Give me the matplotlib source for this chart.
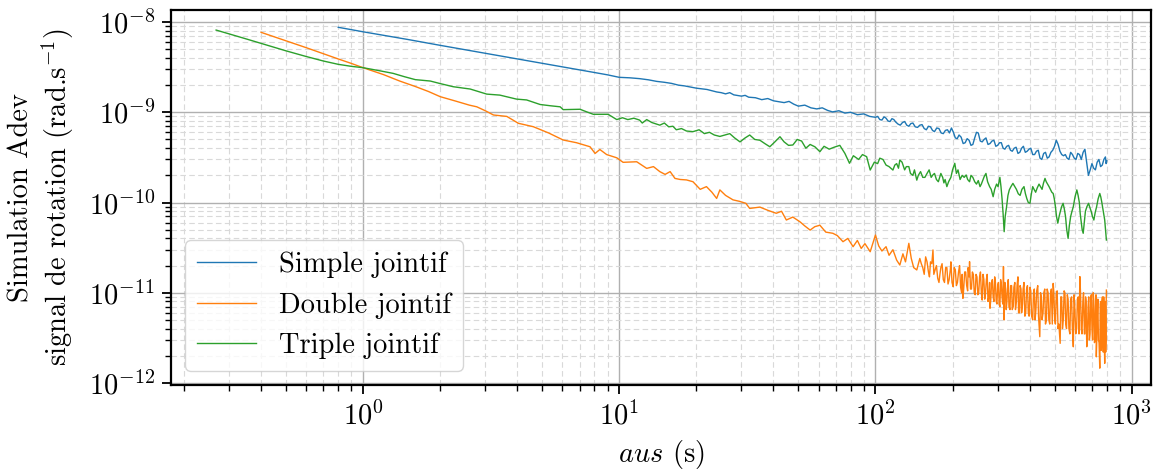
import numpy as np
import matplotlib
matplotlib.use("Agg")
import matplotlib.pyplot as plt
from matplotlib.ticker import LogLocator, NullFormatter

plt.rcParams['font.family'] = 'serif'
plt.rcParams['font.serif'] = ['cmr10', 'DejaVu Serif']
plt.rcParams['mathtext.fontset'] = 'cm'
plt.rcParams['axes.formatter.use_mathtext'] = True
plt.rcParams['axes.unicode_minus'] = False

# ---- data: (tau [s], Allan deviation [1e-12 rad/s]) ----
simple_pts = [
    (0.8, 8750), (1.0, 7800), (1.5, 6400), (2, 5520), (3, 4510), (4, 3900), (5, 3500),
    (6, 3190), (7, 2950), (8, 2760), (9, 2600), (10, 2440), (11, 2410), (12, 2360),
    (13, 2290), (14, 2200), (15, 2150), (16, 2090), (17, 2000), (18, 1960), (20, 1850),
    (22, 1790), (24, 1680), (25, 1650), (26, 1600), (27, 1650), (28, 1560), (30, 1510),
    (31, 1540), (32, 1470), (34, 1450), (36, 1380), (38, 1420), (40, 1340), (42, 1310),
    (44, 1280), (46, 1320), (48, 1230), (50, 1170), (53, 1200), (56, 1120), (59, 1090),
    (62, 1120), (65, 1050), (68, 1010), (72, 1040), (76, 980), (80, 1000), (85, 940),
    (90, 960), (95, 900), (100, 880), (104, 830), (108, 890), (112, 800), (116, 850),
    (120, 780), (125, 720), (130, 790), (135, 700), (140, 760), (146, 680), (152, 730),
    (158, 640), (164, 690), (170, 610), (177, 660), (184, 580), (191, 640), (198, 670),
    (205, 520), (212, 560), (220, 450), (228, 510), (236, 430), (244, 520), (252, 590),
    (261, 470), (270, 520), (280, 450), (290, 490), (300, 430), (310, 460), (320, 390),
    (331, 430), (342, 370), (354, 410), (366, 360), (378, 420), (391, 370), (404, 400),
    (418, 340), (432, 380), (446, 300), (461, 360), (476, 320), (492, 380), (508, 490),
    (525, 370), (542, 330), (560, 310), (578, 360), (597, 310), (616, 350), (636, 300),
    (657, 390), (678, 200), (700, 270), (722, 230), (745, 300), (768, 260), (790, 320),
    (800, 290),
]
simple_extra = [
    (102, 900), (106, 820), (110, 860), (114, 790), (118, 830), (122.5, 740), (127.5, 770),
    (132.5, 720), (137.5, 750), (143, 690), (149, 720), (155, 660), (161, 700), (167, 630),
    (173.5, 670), (180.5, 590), (187.5, 630), (194.5, 590), (201.5, 600), (208.5, 510),
    (216, 530), (224, 460), (232, 490), (240, 440), (248, 600), (256.5, 480), (265.5, 500),
    (275, 440), (285, 480), (295, 420), (305, 460), (315, 400), (325.5, 420), (336.5, 380),
    (348, 400), (360, 350), (372, 400), (384.5, 360), (397.5, 390), (411, 340), (425, 370),
    (439, 310), (453.5, 350), (468.5, 310), (484, 360), (500, 420), (516.5, 440), (533.5, 340),
    (551, 340), (569, 300), (587.5, 340), (606.5, 300), (626, 340), (646.5, 360), (667.5, 280),
    (689, 230), (711, 240), (733.5, 280), (756.5, 250), (779, 300), (795, 270),
]

triple_pts = [
    (0.267, 8150), (0.3, 7400), (0.35, 6500), (0.4, 5800), (0.45, 5250), (0.5, 4800),
    (0.6, 4150), (0.7, 3700), (0.8, 3400), (0.9, 3230), (1.0, 3120), (1.15, 2900),
    (1.31, 2700), (1.45, 2480), (1.6, 2300), (1.83, 2220), (2.0, 2080), (2.25, 1920),
    (2.62, 1810), (3.04, 1590), (3.42, 1550), (3.97, 1400), (4.35, 1370), (4.91, 1220),
    (5.4, 1180), (5.88, 1150), (6.04, 1070), (7.03, 1080), (7.47, 1010), (7.92, 950),
    (9.05, 950), (9.78, 830), (10.3, 870), (10.8, 830), (11.4, 860), (12.0, 820),
    (12.3, 760), (12.8, 830), (13.4, 770), (14.0, 740), (14.4, 720), (15.0, 760),
    (15.6, 690), (16.2, 700), (16.7, 640), (17.5, 660), (18.3, 620), (19.4, 610),
    (20.5, 640), (21.5, 580), (22.5, 600), (23.5, 560), (24.7, 540), (25.8, 560),
    (27.0, 580), (28.2, 520), (29.6, 470), (31.0, 520), (32.3, 560), (33.8, 500),
    (35.4, 490), (37.0, 450), (38.7, 415), (40.5, 470), (42.4, 536), (44.0, 470),
    (45.8, 430), (47.6, 434), (49.5, 500), (51.5, 480), (53.5, 400), (55.6, 440),
    (58, 415), (60.7, 366), (63, 420), (66, 390), (69, 410), (72.6, 430), (76, 350),
    (79.2, 272), (82, 330), (86, 300), (89, 340), (92.4, 322), (95.4, 229), (99, 280),
    (104, 310), (110, 260), (117, 229), (121, 270), (124.5, 296), (130, 230), (135, 250),
    (140, 200), (145, 177), (150, 220), (156, 190), (162, 230), (167.5, 202), (173, 180),
    (180, 210), (185, 165), (190, 150), (197, 190), (204, 272), (210, 230), (218, 200),
    (226, 202), (233, 170), (240, 190), (248, 160), (256, 150), (263, 180), (270, 210),
    (279, 150), (288, 116), (297, 160), (306, 190), (312, 110), (318, 47.5), (325, 90),
    (333, 138), (344, 163), (355, 140), (367, 120), (380, 150), (390, 110), (401, 98),
    (411, 150), (422, 130), (435, 160), (447, 140), (459, 185), (470, 160), (482, 140),
    (494, 126), (504, 90), (515, 59), (527, 80), (540, 98), (552, 70), (565, 40),
    (578, 70), (592, 90), (611, 138), (625, 100), (636, 60), (647, 45.6), (660, 80),
    (679, 98), (695, 80), (712, 64), (730, 90), (751, 126), (765, 100), (785, 64),
    (797, 38.4),
]
triple_extra = [
    (102, 270), (107, 300), (113, 250), (119, 260), (123, 240), (127, 280), (132, 250),
    (137, 210), (142, 230), (147, 200), (153, 190), (159, 210), (165, 190), (170, 210),
    (176, 170), (183, 190), (187, 180), (193, 170), (200, 230), (207, 210), (214, 180),
    (222, 190), (229, 180), (236, 200), (244, 170), (252, 175), (259, 160), (266, 195),
    (274, 170), (283, 140), (292, 140), (301, 150), (309, 150), (315, 75), (321, 70),
    (329, 120), (338, 150), (350, 150), (361, 125), (373, 140), (385, 125), (395, 100),
    (406, 125), (416, 140), (428, 145), (441, 150), (453, 165), (464, 170), (476, 150),
    (488, 130), (499, 110), (509, 70), (521, 70), (533, 90), (546, 85), (558, 50),
    (571, 55), (585, 80), (601, 115), (618, 120), (630, 75), (641, 50), (653, 60),
    (669, 90), (687, 88), (703, 70), (721, 78), (740, 110), (758, 115), (775, 80), (791, 50),
]

double_pts = [
    (0.4, 7690), (0.5, 6200), (0.6, 5200), (0.7, 4450), (0.8, 3900), (0.9, 3480),
    (1.0, 3120), (1.2, 2620), (1.39, 2220), (1.6, 1930), (1.8, 1700), (2.0, 1490),
    (2.3, 1330), (2.6, 1200), (2.78, 1150), (3.0, 1040), (3.23, 933), (3.64, 900),
    (4.04, 755), (4.62, 692), (5.3, 590), (6.04, 493), (6.81, 460), (7.69, 415),
    (8.05, 350), (8.4, 387), (8.93, 340), (9.78, 313), (10.35, 279), (11.7, 283),
    (12.8, 239), (13.6, 250), (14.4, 220), (15.1, 205), (15.8, 220), (16.5, 185),
    (17.3, 180), (18.3, 178), (19.4, 170), (20.7, 140), (21.9, 150), (23, 130),
    (24.0, 111), (24.7, 138), (26, 120), (27.8, 107), (29.5, 103), (31.2, 98),
    (32.3, 86), (35.4, 89), (38, 82), (41.0, 76), (43, 80), (44.9, 64), (47.6, 69),
    (50.8, 61), (53, 55), (55.6, 49.5), (58, 54), (60.7, 56), (64, 47), (68.2, 45.6),
    (71, 43), (74.7, 36.8), (78, 40), (81.8, 32.4), (85, 38), (88, 31), (91, 35),
    (95.4, 28.5), (100, 43.6), (103, 33), (106, 29), (110, 32.4), (113, 26), (117, 30),
    (121, 23), (124.5, 20.3), (128, 27), (131, 22), (135, 35.3), (138, 24), (141, 19),
    (145, 17.9), (149, 24), (153, 19), (157, 25), (161, 17), (164, 22), (167.7, 29.8),
    (171, 18), (175, 14.5), (178.5, 16), (182, 21), (186, 13), (190, 19), (194, 14),
    (197, 22), (201, 11.7), (205, 18), (209, 13), (213, 20), (217, 10), (219.5, 8.67),
    (223, 17), (227, 12), (230, 19), (233, 22.1), (237, 11), (241, 16), (245, 9.5),
    (249, 15), (253, 10), (257, 17), (261, 8.3), (265, 14), (269, 10), (273, 16),
    (277, 9), (280, 6.73), (284, 13), (288, 9), (292, 15), (296, 8), (300, 12),
    (304, 7.5), (308, 14), (312, 9), (316, 19.5), (318, 5.0), (322, 11), (326, 8),
    (330, 14), (335, 6.5), (340, 12), (345, 7), (350, 13), (355, 8), (360, 15),
    (365, 6), (370, 11), (375, 7.5), (380, 13), (386, 6), (392, 12), (398, 5.5),
    (404, 10.5), (411, 5.0), (417, 11), (423, 6.5), (430, 12), (438, 3.26), (444, 9),
    (451, 6), (458, 11), (465, 5), (472, 10), (479, 4.5), (486, 11), (494, 12.7),
    (501, 5), (508, 9.5), (516, 4), (526, 2.75), (533, 9), (541, 5), (549, 10),
    (557, 4), (565, 8.5), (574, 3.5), (583, 9), (592, 2.52), (600, 7), (610, 4),
    (619, 9), (628, 15.1), (636, 4), (645, 8), (654, 3.5), (661, 9), (668, 2.52),
    (676, 7), (684, 3), (692, 8.5), (700, 4), (708, 10), (716, 2.8), (723, 7),
    (728, 1.95), (735, 6), (742, 3), (751, 1.46), (757, 8), (763, 3), (769, 9),
    (775, 2.2), (781, 6), (785, 1.65), (790, 7), (794, 3), (797, 10.7),
]
double_extra = [
    (151, 21), (155, 16), (159, 22), (162.5, 15), (166, 21), (169, 16), (173, 20),
    (177, 13), (180, 19), (184, 14), (188, 19), (192, 12.5), (196, 18), (199, 13),
    (203, 19), (207, 12), (211, 17), (215, 11.5), (218, 16), (221, 11), (225, 17),
    (229, 10.5), (232, 15), (235, 11), (239, 17), (243, 10), (247, 16), (251, 9.5),
    (255, 15), (259, 10), (263, 16), (267, 8.5), (271, 14), (275, 8), (279, 13),
    (282, 8.5), (286, 14), (290, 8), (294, 13), (298, 7.5), (302, 13), (306, 7),
    (310, 12.5), (314, 7.5), (320, 13), (324, 6.5), (328, 12), (332, 7), (337, 12),
    (342, 6.5), (347, 11.5), (352, 6.5), (357, 12), (362, 6), (367, 12), (372, 6),
    (377, 11), (383, 5.5), (389, 11), (395, 6), (401, 11.5), (407, 5.5), (414, 10),
    (420, 5), (426, 10.5), (433, 5.5), (441, 10), (447, 5), (454, 10), (461, 4.5),
    (468, 11), (475, 5), (482, 9.5), (490, 4.5), (497, 10), (504, 4.5), (512, 10.5),
    (520, 4.5), (529, 9), (537, 4), (545, 10.5), (553, 4.5), (561, 9.5), (569, 4),
    (578, 8.5), (587, 4), (596, 9.5), (605, 3.5), (614, 8.5), (623, 3.5), (632, 9.5),
    (640, 3.5), (649, 10), (657, 3.5), (664, 8), (672, 3), (680, 9), (688, 3.5),
    (696, 9.5), (704, 3), (712, 8), (719, 3), (726, 9.5), (731, 3), (738, 8.5),
    (746, 2.8), (754, 7.5), (760, 2.3), (766, 8), (772, 2.8), (778, 9), (783, 2.5),
    (788, 8), (792, 2.2), (795, 7),
]

labels = ["Simple jointif", "Double jointif", "Triple jointif"]
UNIT = 1e-12  # values above are in 1e-12 rad/s


def series(pts, extra):
    merged = sorted(pts + extra)
    tau = np.array([p[0] for p in merged])
    adev = np.array([p[1] for p in merged]) * UNIT
    return tau, adev


simple_tau, simple_adev = series(simple_pts, simple_extra)
double_tau, double_adev = series(double_pts, double_extra)
triple_tau, triple_adev = series(triple_pts, triple_extra)

fig = plt.figure(figsize=(11.59, 4.73), dpi=100)
ax = fig.add_axes([171/1159, 1 - 385/473, (1151 - 171)/1159, (385 - 10)/473])

ax.loglog(simple_tau, simple_adev, color='C0', lw=1.0, label=labels[0])
ax.loglog(double_tau, double_adev, color='C1', lw=1.0, label=labels[1])
ax.loglog(triple_tau, triple_adev, color='C2', lw=1.0, label=labels[2])

ax.set_xlim(0.178, 1190)
ax.set_ylim(0.95e-12, 1.36e-8)

ax.xaxis.set_major_locator(LogLocator(base=10, numticks=20))
ax.xaxis.set_minor_locator(LogLocator(base=10, subs=np.arange(2, 10), numticks=100))
ax.yaxis.set_major_locator(LogLocator(base=10, numticks=20))
ax.yaxis.set_minor_locator(LogLocator(base=10, subs=np.arange(2, 10), numticks=100))
ax.xaxis.set_minor_formatter(NullFormatter())
ax.yaxis.set_minor_formatter(NullFormatter())

ax.grid(True, which='major', color='#b0b0b0', lw=1.0, ls='-')
ax.grid(True, which='minor', color='#d9d9d9', lw=0.8, ls=(0, (5, 3)))
ax.set_axisbelow(True)

for s in ax.spines.values():
    s.set_linewidth(1.6)
ax.tick_params(which='major', direction='out', length=6.5, width=1.3, pad=5, labelsize=20.5)
ax.tick_params(which='minor', direction='out', length=4, width=1.0)

ax.set_xlabel(r"$aus$ (s)", fontsize=20.5, labelpad=6)
ax.set_ylabel("Simulation Adev\nsignal de rotation (rad.s$^{-1}$)", fontsize=20.5, labelpad=9)

leg = ax.legend(loc='lower left', fontsize=20.5, framealpha=0.8, edgecolor='#cccccc',
                fancybox=True, handlelength=2.1, borderaxespad=0.5)

fig.savefig("out.png", dpi=100)
